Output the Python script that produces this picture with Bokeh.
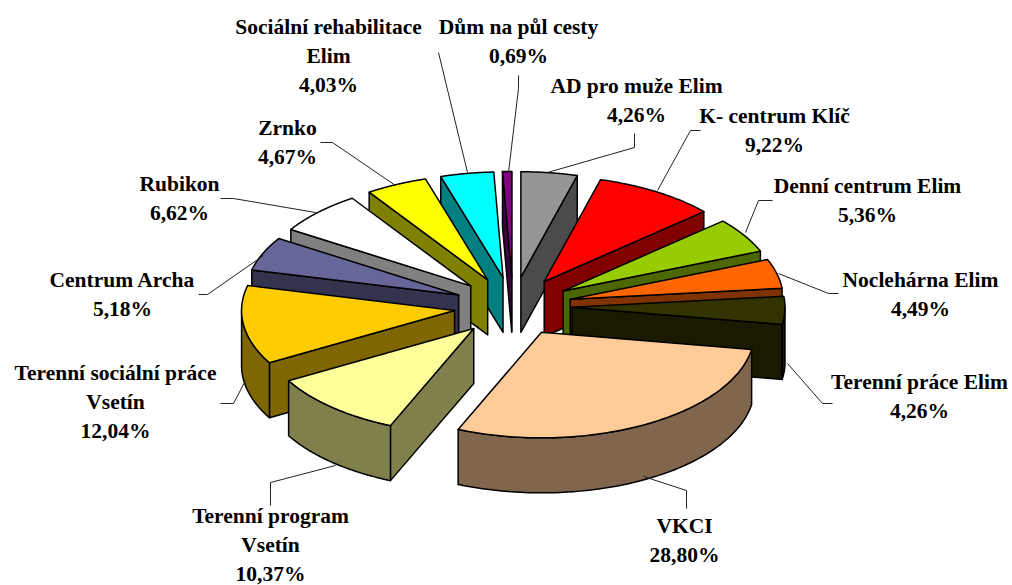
import numpy as np
from bokeh.plotting import figure
from bokeh.embed import file_html
from bokeh.resources import INLINE
from bokeh.core.properties import value

categories = ["AD pro muže Elim", "K- centrum Klíč", "Denní centrum Elim", "Noclehárna Elim",
              "Terenní práce Elim", "VKCI", "Terenní program Vsetín", "Terenní sociální práce Vsetín",
              "Centrum Archa", "Rubikon", "Zrnko", "Sociální rehabilitace Elim", "Dům na půl cesty"]
shares = [4.26, 9.22, 5.36, 4.49, 4.26, 28.80, 10.37, 12.04, 5.18, 6.62, 4.67, 4.03, 0.69]
top_colors = ["#969696", "#ff0000", "#99cc00", "#ff6600", "#333300", "#ffcc99", "#ffff99",
              "#ffcc00", "#666699", "#ffffff", "#ffff00", "#00ffff", "#800080"]
wall_colors = ["#4b4b4b", "#800000", "#4c6600", "#803300", "#1a1a00", "#80664d", "#80804d",
               "#806600", "#33334d", "#808080", "#808000", "#008080", "#400040"]

# label lines (text, centre x, baseline-middle y)
label_lines = [
    (["AD pro muže Elim", "4,26%"], 636, 85),
    (["K- centrum Klíč", "9,22%"], 774, 115),
    (["Denní centrum Elim", "5,36%"], 867, 185),
    (["Noclehárna Elim", "4,49%"], 920, 279),
    (["Terenní práce Elim", "4,26%"], 919, 381),
    (["VKCI", "28,80%"], 684, 525),
    (["Terenní program", "Vsetín", "10,37%"], 270, 515),
    (["Terenní sociální práce", "Vsetín", "12,04%"], 115, 372),
    (["Centrum Archa", "5,18%"], 122, 279),
    (["Rubikon", "6,62%"], 179, 183),
    (["Zrnko", "4,67%"], 287, 127),
    (["Sociální rehabilitace", "Elim", "4,03%"], 328, 26),
    (["Dům na půl cesty", "0,69%"], 518, 26),
]
leaders = [
    ([547, 634, 634], [172, 147, 133]),
    ([657, 690, 700], [190, 130, 130]),
    ([745, 758, 772], [232, 200, 200]),
    ([778, 828, 838], [273, 293, 293]),
    ([787, 822, 832], [363, 403, 403]),
    ([643, 686, 686], [476, 490, 508]),
    ([335, 270, 270], [465, 482, 505]),
    ([245, 233, 220], [380, 403, 403]),
    ([263, 207, 198], [255, 294, 294]),
    ([315, 233, 220], [212, 198, 198]),
    ([395, 332, 320], [185, 142, 142]),
    ([467, 438], [172, 52]),
    ([508, 518, 518], [172, 88, 75]),
]

W, H = 1012, 585
cx, cy = 512.5, 306.0
a, b = 213.0, 105.5
ex, ey = 59.0, 29.5
depth = 55.0

vals = np.array(shares, dtype=float)
edges = np.concatenate([[0.0], np.cumsum(vals)]) / vals.sum() * 2 * np.pi
order = np.argsort([-np.cos((edges[i] + edges[i + 1]) / 2) for i in range(len(vals))])

xs, ys, fills = [], [], []
for i in order:
    t0, t1 = edges[i], edges[i + 1]
    mid = (t0 + t1) / 2
    ax, ay = cx + ex * np.sin(mid), cy - ey * np.cos(mid)
    def rim(t):
        return ax + a * np.sin(t), ay - b * np.cos(t)
    # radial walls
    for t, visible in ((t0, np.sin(t0) < 0), (t1, np.sin(t1) > 0)):
        if visible:
            rx, ry = rim(t)
            xs.append([ax, rx, rx, ax]); ys.append([ay, ry, ry + depth, ay + depth])
            fills.append(wall_colors[i])
    # rim wall
    lo, hi = max(t0, np.pi / 2), min(t1, 3 * np.pi / 2)
    if hi > lo:
        ts = np.linspace(lo, hi, 60)
        rx, ry = rim(ts)
        xs.append(list(rx) + list(rx[::-1])); ys.append(list(ry) + list((ry + depth)[::-1]))
        fills.append(wall_colors[i])
    # top face
    ts = np.linspace(t0, t1, 80)
    rx, ry = rim(ts)
    xs.append([ax] + list(rx)); ys.append([ay] + list(ry))
    fills.append(top_colors[i])

p = figure(width=W, height=H, x_range=(0, W), y_range=(H, 0), toolbar_location=None,
           output_backend="svg", min_border=0, outline_line_color=None,
           x_axis_location=None, y_axis_location=None)
p.grid.visible = False
p.patches(xs, ys, fill_color=fills, line_color="black", line_width=1.5, line_join="round")
p.multi_line([l[0] for l in leaders], [l[1] for l in leaders], line_color="#222222", line_width=1)

tx, ty, tt = [], [], []
for lines, x, y in label_lines:
    for k, s in enumerate(lines):
        tx.append(x); ty.append(y + k * 29); tt.append(s)
p.text(tx, ty, text=tt, text_font=value("Liberation Serif"), text_font_style="bold",
       text_font_size="21.5px", text_align="center", text_baseline="middle", text_color="black")

open("out.html", "w").write(file_html(p, INLINE))
